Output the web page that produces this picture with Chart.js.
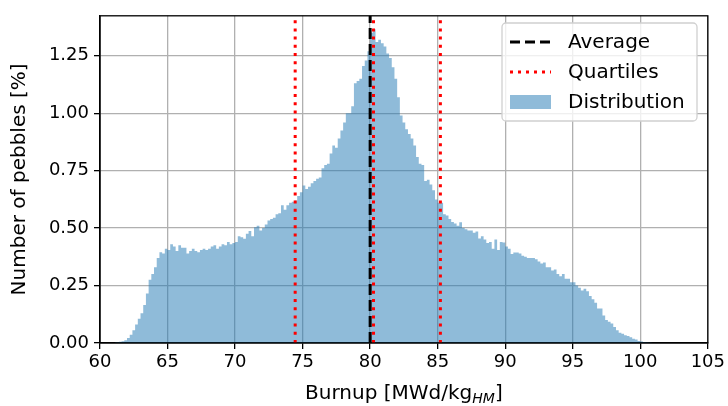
<!DOCTYPE html>
<html>
<head>
<meta charset="utf-8">
<script src="https://cdn.jsdelivr.net/npm/chart.js@4.4.1/dist/chart.umd.min.js"></script>
<style>
    html, body { margin: 0; padding: 0; background: #fff; }
    #wrap { width: 728px; height: 406px; }
</style>
</head>
<body>
<div id="wrap"><canvas id="burnupChart" width="728" height="406"></canvas></div>
<script>
// ================= DATA =================
// histogram bins: 0.2 MWd/kg wide, first bin starts at 61.0
const binStart = 61.0;
const binWidth = 0.2;

// share of pebbles per bin [%] (5 bins per line = 1 MWd/kg)
const distribution = [
    0.002, 0.003, 0.005, 0.008, 0.012,   // 61
    0.022, 0.036, 0.056, 0.080, 0.105,   // 62
    0.130, 0.165, 0.215, 0.275, 0.300,   // 63
    0.330, 0.370, 0.395, 0.390, 0.410,   // 64
    0.405, 0.430, 0.420, 0.400, 0.425,   // 65
    0.415, 0.415, 0.390, 0.400, 0.410,   // 66
    0.400, 0.395, 0.405, 0.410, 0.405,   // 67
    0.410, 0.420, 0.425, 0.410, 0.420,   // 68
    0.430, 0.425, 0.440, 0.430, 0.435,   // 69
    0.440, 0.465, 0.460, 0.454, 0.475,   // 70
    0.487, 0.465, 0.504, 0.510, 0.490,   // 71
    0.500, 0.516, 0.533, 0.540, 0.545,   // 72
    0.560, 0.565, 0.600, 0.580, 0.600,   // 73
    0.610, 0.615, 0.620, 0.640, 0.656,   // 74
    0.685, 0.670, 0.680, 0.695, 0.705,   // 75
    0.715, 0.720, 0.760, 0.775, 0.780,   // 76
    0.825, 0.860, 0.850, 0.890, 0.925,   // 77
    0.960, 1.000, 1.000, 1.030, 1.130,   // 78
    1.140, 1.150, 1.205, 1.230, 1.270,   // 79
    1.350, 1.365, 1.310, 1.320, 1.305,   // 80
    1.290, 1.260, 1.240, 1.200, 1.150,   // 81
    1.070, 0.990, 0.960, 0.930, 0.910,   // 82
    0.890, 0.860, 0.810, 0.780, 0.775,   // 83
    0.705, 0.710, 0.690, 0.665, 0.625,   // 84
    0.610, 0.610, 0.560, 0.555, 0.540,   // 85
    0.527, 0.520, 0.510, 0.525, 0.500,   // 86
    0.495, 0.490, 0.490, 0.480, 0.485,   // 87
    0.455, 0.465, 0.450, 0.435, 0.440,   // 88
    0.410, 0.450, 0.405, 0.440, 0.437,   // 89
    0.420, 0.410, 0.387, 0.394, 0.394,   // 90
    0.390, 0.380, 0.375, 0.370, 0.370,   // 91
    0.370, 0.365, 0.355, 0.346, 0.350,   // 92
    0.330, 0.330, 0.315, 0.320, 0.300,   // 93
    0.290, 0.300, 0.280, 0.280, 0.264,   // 94
    0.264, 0.250, 0.240, 0.228, 0.236,   // 95
    0.225, 0.205, 0.190, 0.175, 0.150,   // 96
    0.150, 0.120, 0.100, 0.092, 0.085,   // 97
    0.070, 0.056, 0.045, 0.040, 0.034,   // 98
    0.030, 0.025, 0.018, 0.015, 0.009,   // 99
    0.006, 0.004, 0.003, 0.002, 0.001    // 100
];

const averageBurnup = 80.0;
const quartiles = [74.45, 80.25, 85.2];

const xTicks = [60, 65, 70, 75, 80, 85, 90, 95, 100, 105];
const yTicks = [0, 0.25, 0.5, 0.75, 1.0, 1.25];
const yTop = 1.424;

const legendLabels = ["Average", "Quartiles", "Distribution"];

// ================= STYLE =================
const FONT = "'DejaVu Sans', sans-serif";
const histColor = "rgba(31,119,180,0.5)";

// ================= PLUGINS =================
// top/right spines + x title with subscript + legend box
const framePlugin = {
    id: "frame",
    afterDraw(chart) {
        const ctx = chart.ctx;
        const a = chart.chartArea;

        ctx.save();
        ctx.strokeStyle = "#000";
        ctx.lineWidth = 1.3;
        ctx.strokeRect(a.left, a.top, a.right - a.left, a.bottom - a.top);

        // x axis title: Burnup [MWd/kg_HM]
        const main = "Burnup [MWd/kg";
        const sub = "HM";
        const close = "]";
        ctx.fillStyle = "#000";
        ctx.textBaseline = "alphabetic";
        ctx.font = "20px " + FONT;
        const wMain = ctx.measureText(main).width;
        const wClose = ctx.measureText(close).width;
        ctx.font = "italic 14px " + FONT;
        const wSub = ctx.measureText(sub).width;
        let x = (a.left + a.right) / 2 - (wMain + wSub + wClose) / 2;
        const base = 399;
        ctx.font = "20px " + FONT;
        ctx.textAlign = "left";
        ctx.fillText(main, x, base);
        x += wMain;
        ctx.font = "italic 14px " + FONT;
        ctx.fillText(sub, x, base + 4);
        x += wSub;
        ctx.font = "20px " + FONT;
        ctx.fillText(close, x, base);

        // legend
        const lx = 502, ly = 23, lw = 195, lh = 98;
        ctx.beginPath();
        ctx.roundRect(lx, ly, lw, lh, 4);
        ctx.fillStyle = "rgba(255,255,255,0.8)";
        ctx.fill();
        ctx.strokeStyle = "#d0d0d0";
        ctx.lineWidth = 1.3;
        ctx.stroke();

        const hx0 = 510, hx1 = 551;
        const rows = [42, 72, 102];

        ctx.lineWidth = 3;
        ctx.lineCap = "butt";
        ctx.strokeStyle = "#000";
        ctx.setLineDash([10, 5]);
        ctx.beginPath();
        ctx.moveTo(hx0, rows[0]);
        ctx.lineTo(hx1, rows[0]);
        ctx.stroke();

        ctx.strokeStyle = "#ff0000";
        ctx.setLineDash([3, 5]);
        ctx.beginPath();
        ctx.moveTo(hx0, rows[1]);
        ctx.lineTo(hx1, rows[1]);
        ctx.stroke();
        ctx.setLineDash([]);

        ctx.fillStyle = histColor;
        ctx.fillRect(hx0, rows[2] - 7, hx1 - hx0, 14);

        ctx.fillStyle = "#000";
        ctx.font = "20px " + FONT;
        ctx.textBaseline = "middle";
        legendLabels.forEach((t, i) => ctx.fillText(t, 568, rows[i] + 1));

        ctx.restore();
    }
};

// ================= CHART =================
function vline(x, color, dash, order) {
    return {
        type: "line",
        data: [{ x: x, y: 0 }, { x: x, y: yTop }],
        borderColor: color,
        borderWidth: 3,
        borderDash: dash,
        borderCapStyle: "butt",
        pointRadius: 0,
        fill: false,
        order: order
    };
}

window.onload = function () {
    const histPoints = distribution.map((v, i) => ({
        x: binStart + binWidth * (i + 0.5),
        y: v
    }));

    const datasets = [
        {
            type: "line",
            label: "Distribution",
            data: histPoints,
            stepped: "middle",
            fill: "origin",
            backgroundColor: histColor,
            borderColor: "transparent",
            borderWidth: 0,
            pointRadius: 0,
            order: 5
        },
        vline(averageBurnup, "#000", [11, 5], 2)
    ];
    quartiles.forEach(q => datasets.push(vline(q, "#ff0000", [3, 5.2], 1)));

    new Chart(document.getElementById("burnupChart"), {
        type: "line",
        data: { datasets: datasets },
        options: {
            responsive: false,
            animation: false,
            devicePixelRatio: 1,
            layout: { padding: { left: 0, right: 20, top: 12, bottom: 0 } },
            plugins: {
                legend: { display: false },
                tooltip: { enabled: false }
            },
            scales: {
                x: {
                    type: "linear",
                    min: 60,
                    max: 105,
                    afterBuildTicks: s => { s.ticks = xTicks.map(v => ({ value: v })); },
                    afterFit: s => { s.height = 63; },
                    grid: {
                        color: "#b0b0b0",
                        lineWidth: 1.3,
                        tickColor: "#000",
                        tickLength: 6,
                        tickWidth: 1.3
                    },
                    border: { color: "#000", width: 1.3 },
                    ticks: {
                        color: "#000",
                        font: { family: FONT, size: 18 },
                        padding: 3,
                        maxRotation: 0,
                        callback: v => String(v)
                    }
                },
                y: {
                    type: "linear",
                    min: 0,
                    max: yTop,
                    afterBuildTicks: s => { s.ticks = yTicks.map(v => ({ value: v })); },
                    afterFit: s => { s.width = 100; },
                    grid: {
                        color: "#b0b0b0",
                        lineWidth: 1.3,
                        tickColor: "#000",
                        tickLength: 6,
                        tickWidth: 1.3
                    },
                    border: { color: "#000", width: 1.3 },
                    ticks: {
                        color: "#000",
                        font: { family: FONT, size: 18 },
                        padding: 5,
                        callback: v => v.toFixed(2)
                    },
                    title: {
                        display: true,
                        text: "Number of pebbles [%]",
                        color: "#000",
                        font: { family: FONT, size: 20 },
                        padding: { top: 8, bottom: 0 }
                    }
                }
            }
        },
        plugins: [framePlugin]
    });
};
</script>
</body>
</html>
